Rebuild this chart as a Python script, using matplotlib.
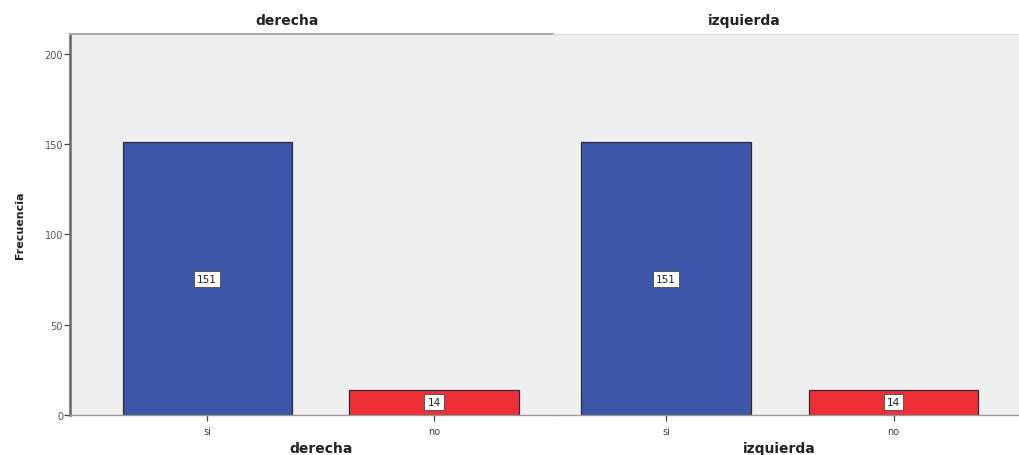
import matplotlib
matplotlib.use("Agg")
import matplotlib.pyplot as plt

plt.rcParams['font.family'] = ['DejaVu Sans']

# frecuencias por lado
paneles = ["derecha", "izquierda"]
categorias = ["si", "no"]
frec_derecha = [151, 14]
frec_izquierda = [151, 14]
frecuencias = [frec_derecha, frec_izquierda]
ticks_y = [0, 50, 100, 150, 200]

azul = "#3d56a8"
rojo = "#ef2f37"
fondo = "#efefef"

fig = plt.figure(figsize=(10.2, 4.56), dpi=100)

# posiciones de cada panel (fraccion de figura) y rango x
cajas = [[0.0686, 0.0877, 0.4735, 0.8355], [0.5421, 0.0877, 0.4579, 0.8355]]
rangos_x = [(-0.604, 1.524), (-0.497, 1.556)]
titulos_x = [0.281, 0.730]
etiq_x = [0.315, 0.764]

for i, nombre in enumerate(paneles):
    ax = fig.add_axes(cajas[i])
    ax.set_facecolor(fondo)
    x = list(range(len(categorias)))
    barras = ax.bar(x, frecuencias[i], width=0.745, color=[azul, rojo],
                    edgecolor="#2a2a3a", linewidth=0.9, zorder=2)
    for b, v in zip(barras, frecuencias[i]):
        ax.text(b.get_x() + b.get_width() / 2, v / 2, str(v), ha="center", va="center",
                fontsize=7.5, color="#222222", zorder=3,
                bbox=dict(boxstyle="square,pad=0.3", fc="white", ec="#555555", lw=0.7))
    ax.set_xlim(*rangos_x[i])
    ax.set_ylim(0, 211)
    ax.set_xticks(x)
    ax.set_xticklabels(categorias, fontsize=7, color="#444444")
    ax.tick_params(axis="x", length=4, width=0.9, color="#444444", pad=4)
    ax.spines["right"].set_visible(False)
    ax.spines["bottom"].set_color("#999999")
    ax.spines["bottom"].set_linewidth(1.0)
    if i == 0:
        ax.spines["top"].set_color("#aaaaaa")
        ax.spines["top"].set_linewidth(1.5)
        ax.spines["left"].set_color("#666666")
        ax.spines["left"].set_linewidth(1.8)
        ax.set_yticks(ticks_y)
        ax.set_yticklabels([str(t) for t in ticks_y], fontsize=7, color="#555555")
        ax.tick_params(axis="y", length=4, width=0.9, color="#444444", pad=1)
        ax.set_ylabel("Frecuencia", fontsize=8, fontweight="bold", color="#222222", labelpad=14)
    else:
        ax.spines["top"].set_color("#dddddd")
        ax.spines["top"].set_linewidth(1.0)
        ax.spines["left"].set_visible(False)
        ax.set_yticks([])
    fig.text(titulos_x[i], 0.953, nombre, ha="center", va="center",
             fontsize=10, fontweight="bold", color="#222222")
    fig.text(etiq_x[i], 0.016, nombre, ha="center", va="center",
             fontsize=10, fontweight="bold", color="#222222")

fig.savefig("out.png", dpi=100, facecolor="white")
